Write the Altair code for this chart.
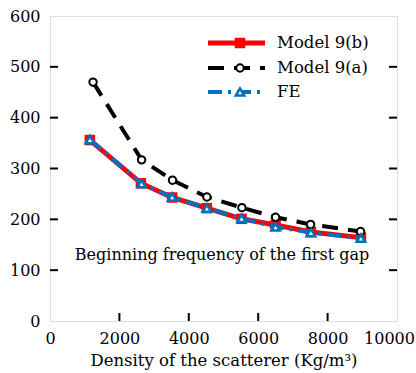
import altair as alt
import pandas as pd

series_names = ["Model 9(b)", "Model 9(a)", "FE"]
x_b = [1150, 2620, 3520, 4520, 5520, 6500, 7520, 8960]
y_b = [356, 271, 243, 222, 201, 189, 175, 164]
x_a = [1240, 2640, 3530, 4520, 5530, 6500, 7510, 8950]
y_a = [470, 317, 277, 244, 223, 204, 190, 176]
x_fe = [1150, 2640, 3520, 4520, 5520, 6500, 7520, 8960]
y_fe = [357, 270, 244, 222, 202, 185, 174, 163]

x_ticks = [0, 2000, 4000, 6000, 8000, 10000]
y_ticks = [0, 100, 200, 300, 400, 500, 600]
annotation = "Beginning frequency of the first gap"

FONT = "DejaVu Serif"
RED = "#ff0000"
BLUE = "#0070c0"

df_b = pd.DataFrame({"x": x_b, "y": y_b})
df_a = pd.DataFrame({"x": x_a, "y": y_a})
df_fe = pd.DataFrame({"x": x_fe, "y": y_fe})
df_yt = pd.DataFrame({"v": y_ticks[1:-1]})
df_xt = pd.DataFrame({"v": x_ticks[1:-1]})

xs = alt.Scale(domain=[0, 10000], nice=False, zero=False)
ys = alt.Scale(domain=[0, 600], nice=False, zero=False)

X = alt.X("x:Q", scale=xs, axis=alt.Axis(
    values=x_ticks, ticks=False, domain=False, grid=False, labelFont=FONT,
    labelFontSize=16, labelColor="black", labelPadding=9, format="d",
    labelOffset={"condition": {"test": "datum.value == 10000", "value": -8}, "value": 0},
    title="Density of the scatterer  (Kg/m³)", titleFont=FONT, titleFontSize=16.5,
    titleFontWeight="normal", titleColor="black", titlePadding=6, labelFlush=False))
Y = alt.Y("y:Q", scale=ys, axis=alt.Axis(
    values=y_ticks, ticks=False, domain=False, grid=False, labelFont=FONT,
    labelFontSize=16, labelColor="black", labelPadding=10, title=None))

line_b = alt.Chart(df_b).mark_line(color=RED, strokeWidth=5).encode(x=X, y=Y)
pt_b = alt.Chart(df_b).mark_point(shape="square", filled=True, color=RED, size=110, opacity=1).encode(x=X, y=Y)
line_a = alt.Chart(df_a).mark_line(color="black", strokeWidth=4, strokeDash=[16, 10]).encode(x=X, y=Y)
pt_a = alt.Chart(df_a).mark_point(shape="circle", fill="white", stroke="black", strokeWidth=2, size=55, opacity=1, filled=False).encode(x=X, y=Y)
line_fe = alt.Chart(df_fe).mark_line(color=BLUE, strokeWidth=4, strokeDash=[14, 6, 3, 6]).encode(x=X, y=Y)
pt_fe = alt.Chart(df_fe).mark_point(shape="triangle-up", fill="white", stroke=BLUE, strokeWidth=2.5, size=70, opacity=1).encode(x=X, y=Y)

# inward ticks
yt_left = alt.Chart(df_yt).mark_rule(color="black", strokeWidth=2).encode(
    y=alt.Y("v:Q", scale=ys), x=alt.value(0), x2=alt.value(8))
yt_right = alt.Chart(df_yt).mark_rule(color="black", strokeWidth=2).encode(
    y=alt.Y("v:Q", scale=ys), x=alt.value(339), x2=alt.value(347))
xt_bot = alt.Chart(df_xt).mark_rule(color="black", strokeWidth=2).encode(
    x=alt.X("v:Q", scale=xs), y=alt.value(305), y2=alt.value(297))

ann = alt.Chart(pd.DataFrame({"t": [annotation]})).mark_text(
    font=FONT, fontSize=16, color="black", align="center", baseline="middle").encode(
    text="t:N", x=alt.value(172), y=alt.value(239))

# legend
leg_y = [27, 52, 76]
leg = pd.DataFrame({"name": series_names, "ly": leg_y})
def legrow(i, color, width, dash, shape, pt_kwargs):
    d = leg.iloc[[i]]
    base = alt.Chart(d)
    kw = dict(color=color, strokeWidth=width)
    if dash:
        kw["strokeDash"] = dash
    r = base.mark_rule(**kw).encode(x=alt.value(158), x2=alt.value(215), y=alt.value(leg_y[i]))
    p = base.mark_point(shape=shape, opacity=1, **pt_kwargs).encode(x=alt.value(190), y=alt.value(leg_y[i]))
    t = base.mark_text(font=FONT, fontSize=16.5, color="black", align="left", baseline="middle").encode(
        text="name:N", x=alt.value(227), y=alt.value(leg_y[i]))
    return r + p + t

l0 = legrow(0, RED, 5, None, "square", dict(filled=True, color=RED, size=110))
l1 = legrow(1, "black", 4, [16, 10], "circle", dict(fill="white", stroke="black", strokeWidth=2, size=55))
l2 = legrow(2, BLUE, 4, [14, 6, 3, 6], "triangle-up", dict(fill="white", stroke=BLUE, strokeWidth=2.5, size=70))

chart = alt.layer(
    yt_left, yt_right, xt_bot, line_b, pt_b, line_a, pt_a, line_fe, pt_fe, ann, l0, l1, l2
).properties(
    width=347, height=305,
    autosize=alt.AutoSizeParams(type="none"),
    padding={"left": 50, "top": 16, "right": 19, "bottom": 52},
).configure_view(stroke="black", strokeWidth=2).configure(background="white")

chart.save("out.html", embed_options={"renderer": "svg", "actions": False})
